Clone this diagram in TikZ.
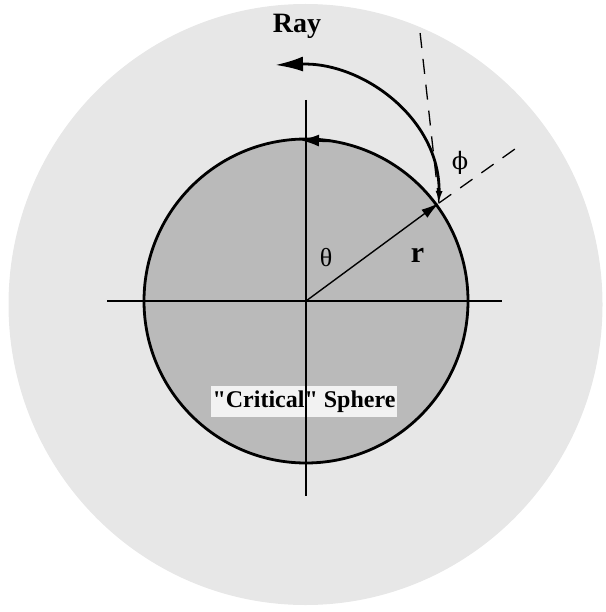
\documentclass[tikz,border=0pt]{standalone}
\usepackage{fontspec}
\setmainfont{Liberation Serif}
\newfontfamily\rawserif{Liberation Serif}
\newfontfamily\symserif{DejaVu Serif}
\usetikzlibrary{arrows.meta}
\definecolor{outergray}{gray}{0.905}
\definecolor{innergray}{gray}{0.73}
\definecolor{labelbg}{gray}{0.95}
\tikzset{
  axisline/.style={line width=1.4pt,black},
  sphereline/.style={line width=2.8pt,black},
  rayline/.style={line width=2.8pt,black},
  dashline/.style={line width=1.3pt,dash pattern=on 15pt off 11pt},
  lbl/.style={inner sep=0pt,font=\fontsize{26}{28}\selectfont},
}
\begin{document}
\begin{tikzpicture}[x=1pt,y=-1pt]
\useasboundingbox (0,0) rectangle (605,612);
% outer disk
\fill[outergray] (305.5,304.5) ellipse [x radius=297, y radius=300.5];
% inner sphere
\coordinate (C) at (306,301);
\fill[innergray] (C) circle [radius=162];
% label
\node[fill=labelbg,inner sep=0pt,minimum width=186pt,minimum height=31pt,
      font=\fontsize{24}{26}\rawserif\bfseries] (crit) at (304,401.5) {"Critical" Sphere};
% axes
\coordinate (xl) at (107,301);
\coordinate (xr) at (502,301);
\coordinate (yt) at (306,100);
\coordinate (yb) at (306,496);
\draw[axisline] (xl) -- (xr);
\draw[axisline] (yt) -- (yb);
% sphere outline
\draw[sphereline] (C) circle [radius=162];
% arrow on top of sphere
\coordinate (ta1) at (330,140.8);
\coordinate (ta2) at (299,140);
\draw[line width=2.8pt,-{Latex[length=20pt,width=12pt]}] (ta1) -- (ta2);
% point on sphere
\coordinate (P) at (439,203);
% radius arrow
\draw[line width=1.4pt,-{Latex[length=18pt,width=10pt]}] (C) -- (P);
% dashed lines
\coordinate (d1) at (522,144);
\coordinate (d2) at (420,32);
\draw[dashline] (P) -- (d1);
\draw[dashline] (P) -- (d2);
% ray
\coordinate (rayend) at (275,65);
\draw[rayline,{Latex[length=12pt,width=7pt]}-{Latex[length=28pt,width=15pt]}]
  (P) .. controls (440,118) and (362,62) .. (rayend);
% labels
\node[lbl,font=\fontsize{28}{30}\selectfont\bfseries,anchor=base] (ray) at (297,33) {Ray};
\node[lbl] (theta) at (326,257.5) {θ};
\node[lbl,font=\fontsize{30}{32}\selectfont\bfseries,anchor=base] (r) at (417.5,262) {r};
\node[lbl,font=\fontsize{24}{26}\symserif] (phi) at (460,162.5) {ϕ};
\end{tikzpicture}
\end{document}
